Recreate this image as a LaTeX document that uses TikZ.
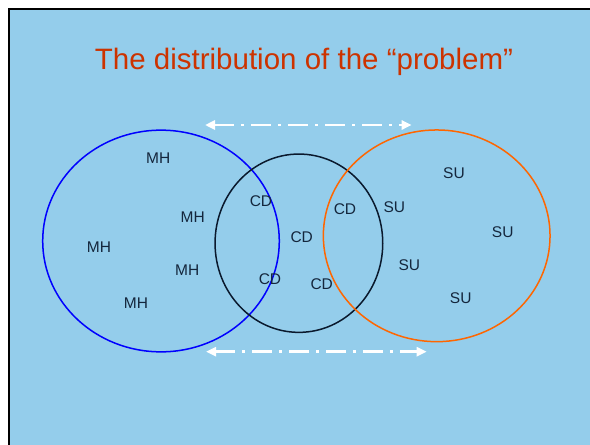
\documentclass[tikz,border=0pt]{standalone}
\usepackage{fontspec}
\setmainfont{Liberation Sans}
\usetikzlibrary{shapes.geometric,arrows.meta}
\definecolor{slidebg}{RGB}{148,205,235}
\definecolor{titlered}{RGB}{204,51,0}
\definecolor{labelnavy}{RGB}{20,38,60}
\definecolor{setblue}{RGB}{0,0,255}
\definecolor{setnavy}{RGB}{10,25,45}
\definecolor{setorange}{RGB}{255,102,0}
\tikzset{
  setring/.style={ellipse, draw, line width=1.5pt, inner sep=0pt},
  lbl/.style={inner sep=0pt, text=labelnavy, font=\fontsize{15.5}{18}\selectfont},
  spanarrow/.style={draw=white, line width=2.6pt, dash pattern=on 20pt off 7pt on 3pt off 7pt,
    {Triangle[length=10pt,width=9pt]}-{Triangle[length=10pt,width=9pt]}}
}
\begin{document}
\begin{tikzpicture}[x=1pt,y=-1pt]
\useasboundingbox (0,0) rectangle (590,445);
\clip (0,0) rectangle (590,445);
\fill[white] (0,0) rectangle (590,445);
\draw[fill=slidebg, draw=black, line width=2.5pt] (9.2,9.2) rectangle (600,455);
\node[anchor=base, inner sep=0pt, text=titlered, font=\fontsize{29.5}{34}\selectfont] (title) at (304,69.3) {The distribution of the “problem”};
% sets
\node[setring, draw=setblue, minimum width=236.6pt, minimum height=221.7pt] (mhset) at (161,241) {};
\node[setring, draw=setnavy, minimum width=167.7pt, minimum height=178.3pt] (cdset) at (298.9,243.2) {};
\node[setring, draw=setorange, minimum width=226.7pt, minimum height=211.7pt] (suset) at (436.7,235.8) {};
% arrows
\coordinate (tl) at (205,125);
\coordinate (tr) at (411.7,125);
\coordinate (bl) at (206,351.7);
\coordinate (br) at (426.7,351.7);
\draw[spanarrow] (tl) -- (tr);
\draw[spanarrow] (bl) -- (br);
% MH labels
\node[lbl] (mh1) at (158.3,158.3) {MH};
\node[lbl] (mh2) at (192.7,217.3) {MH};
\node[lbl] (mh3) at (99,247.3) {MH};
\node[lbl] (mh4) at (187.3,270) {MH};
\node[lbl] (mh5) at (136,303.3) {MH};
% CD labels
\node[lbl] (cd1) at (261,200.7) {CD};
\node[lbl] (cd2) at (301.7,237.3) {CD};
\node[lbl] (cd3) at (270,279.3) {CD};
\node[lbl] (cd4) at (345,209.3) {CD};
\node[lbl] (cd5) at (321.7,284.3) {CD};
% SU labels
\node[lbl] (su1) at (454,173.3) {SU};
\node[lbl] (su2) at (394.3,207.3) {SU};
\node[lbl] (su3) at (502.7,232.3) {SU};
\node[lbl] (su4) at (409.3,265) {SU};
\node[lbl] (su5) at (460.7,298.3) {SU};
\end{tikzpicture}
\end{document}
